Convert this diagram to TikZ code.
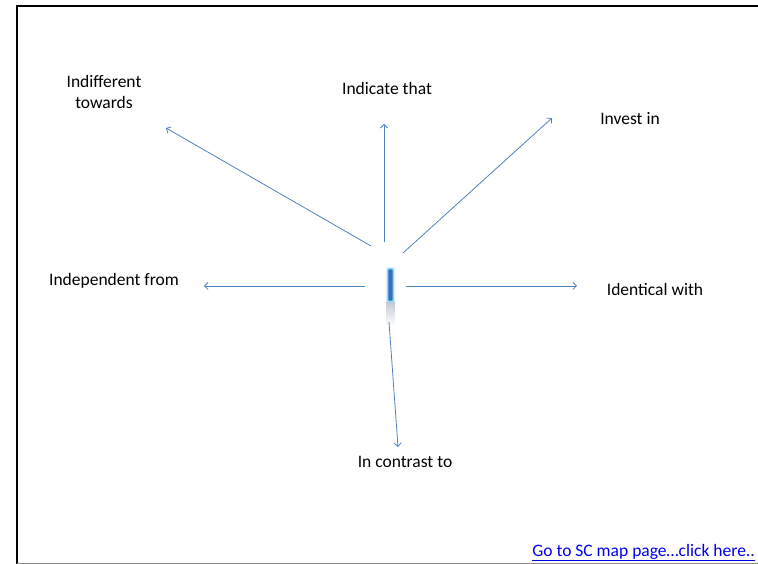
\documentclass[tikz,border=0pt]{standalone}
\usepackage{fontspec}
\setmainfont{Carlito}
\usetikzlibrary{arrows,arrows.meta,shapes,positioning}

\definecolor{arrowblue}{RGB}{79,129,189}
\definecolor{barblue}{RGB}{55,110,190}
\definecolor{linkblue}{RGB}{0,0,238}

\begin{document}
\begin{tikzpicture}[
                    x = 1pt, y = 1pt,
                    ->,
                    >={Straight Barb[length = 3.5pt, width = 7pt]},
                    align = center,
                    label/.style = {font = \fontsize{17.5}{21}\selectfont, inner sep = 0pt},
                    link/.style = {arrowblue, line width = 0.8pt}]
                \useasboundingbox (0,0) rectangle (758,564);
                % frame
                \draw[-, line width = 2.2pt, black] (758,558) -- (17,558) -- (17,0);
                \draw[-, line width = 1.5pt, black!45] (17,0.6) -- (758,0.6);
                % centre bar
                \shade[top color = barblue!30!gray!40, bottom color = white] (386.5,262) rectangle (394.5,238);
                \node[draw = cyan!45, fill = barblue, line width = 1.8pt, rounded corners = 1pt,
                      minimum width = 6pt, minimum height = 33pt, inner sep = 0pt] (bar) at (390.5,279) {};
                % labels
                \node[label] (towards)     at (104,472) {Indifferent\\towards};
                \node[label] (indicate)    at (387,476) {Indicate that};
                \node[label] (invest)      at (630,445) {Invest in};
                \node[label] (independent) at (114,283) {Independent from};
                \node[label] (identical)   at (655,275) {Identical with};
                \node[label] (contrast)    at (405,102) {In contrast to};
                \node[label, anchor = east, text = linkblue] (goto) at (755,11.5)
                    {\underline{Go to SC map page…click here..}};
                % arrow ends
                \coordinate (s1) at (371,318);  \coordinate (e1) at (166,436);
                \coordinate (s2) at (384,322);  \coordinate (e2) at (384,440);
                \coordinate (s3) at (403,311);  \coordinate (e3) at (552,446);
                \coordinate (s4) at (365,278);  \coordinate (e4) at (204,278);
                \coordinate (s5) at (406,278);  \coordinate (e5) at (577,278);
                \coordinate (s6) at (389,242);  \coordinate (e6) at (398,117);
                \path[link]
                (s1) edge (e1)
                (s2) edge (e2)
                (s3) edge (e3)
                (s4) edge (e4)
                (s5) edge (e5)
                (s6) edge (e6)
                ;
            \end{tikzpicture}
\end{document}
